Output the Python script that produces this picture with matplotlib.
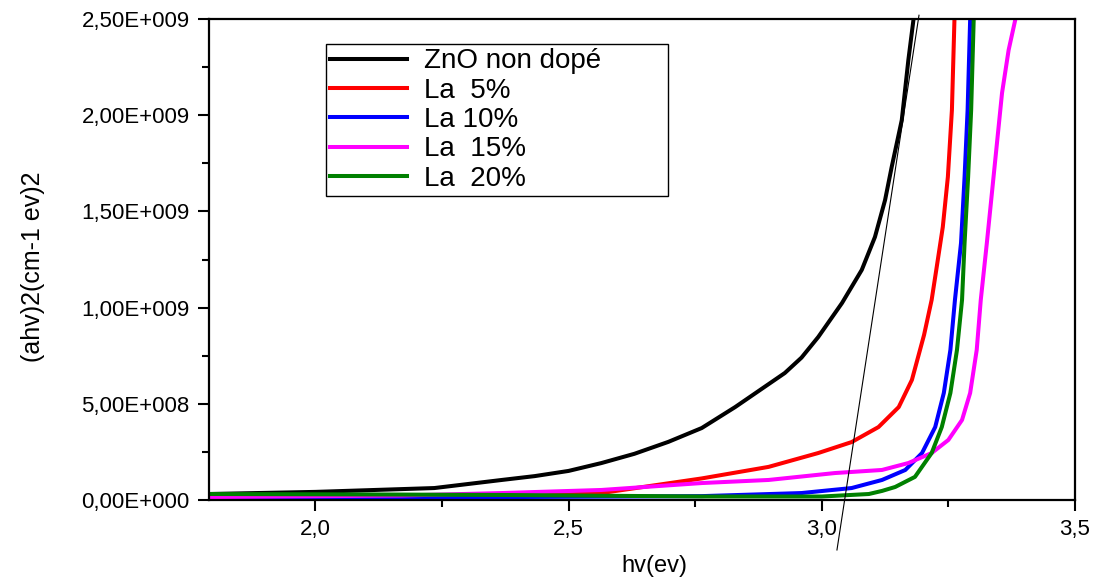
import math
import matplotlib
matplotlib.use("Agg")
import matplotlib.pyplot as plt
from matplotlib.ticker import FuncFormatter, MultipleLocator

plt.rcParams['font.family'] = ['Liberation Sans', 'DejaVu Sans']

# (ahv)^2 curves
x_zno = [1.79, 2.00, 2.235, 2.368, 2.433, 2.50, 2.565, 2.630, 2.697, 2.763, 2.829, 2.927, 2.960, 2.993, 3.040,
         3.079, 3.105, 3.125, 3.138, 3.158, 3.171, 3.181, 3.186]
y_zno = [3.1e7, 4.2e7, 6.2e7, 1.04e8, 1.24e8, 1.51e8, 1.92e8, 2.40e8, 3.02e8, 3.74e8, 4.83e8, 6.60e8, 7.40e8,
         8.47e8, 1.024e9, 1.196e9, 1.367e9, 1.559e9, 1.73e9, 1.975e9, 2.287e9, 2.495e9, 2.6e9]

x_la5 = [1.79, 2.17, 2.368, 2.565, 2.763, 2.895, 2.993, 3.059, 3.112, 3.152, 3.178, 3.202, 3.217, 3.227, 3.239,
         3.249, 3.257, 3.262, 3.263]
y_la5 = [5e6, 1e7, 1.6e7, 3.6e7, 1.12e8, 1.72e8, 2.44e8, 3.01e8, 3.79e8, 4.83e8, 6.24e8, 8.58e8, 1.04e9, 1.211e9,
         1.419e9, 1.679e9, 2.027e9, 2.495e9, 2.6e9]

x_la10 = [1.79, 2.368, 2.763, 2.96, 3.059, 3.119, 3.165, 3.198, 3.224, 3.241, 3.254, 3.263, 3.275, 3.282, 3.288,
          3.293, 3.294]
y_la10 = [1.5e7, 1.5e7, 2e7, 3.6e7, 6.2e7, 1.04e8, 1.56e8, 2.44e8, 3.79e8, 5.56e8, 7.80e8, 1.04e9, 1.336e9,
          1.679e9, 2.027e9, 2.495e9, 2.6e9]

x_la15 = [1.79, 2.17, 2.368, 2.565, 2.763, 2.895, 3.026, 3.119, 3.171, 3.217, 3.250, 3.277, 3.293, 3.306, 3.314,
          3.326, 3.336, 3.346, 3.356, 3.369, 3.382, 3.386]
y_la15 = [1.5e7, 2.3e7, 3.6e7, 5.2e7, 8.8e7, 1.04e8, 1.40e8, 1.56e8, 1.92e8, 2.44e8, 3.12e8, 4.16e8, 5.56e8,
          7.80e8, 1.04e9, 1.336e9, 1.596e9, 1.856e9, 2.116e9, 2.339e9, 2.495e9, 2.6e9]

x_la20 = [1.79, 2.07, 2.368, 2.763, 3.00, 3.093, 3.119, 3.145, 3.184, 3.217, 3.237, 3.254, 3.267, 3.277, 3.282,
          3.289, 3.295, 3.300, 3.301]
y_la20 = [3.1e7, 2.9e7, 2.6e7, 1.8e7, 1.8e7, 3.1e7, 4.7e7, 6.76e7, 1.2e8, 2.44e8, 3.79e8, 5.56e8, 7.80e8, 1.04e9,
          1.336e9, 1.679e9, 2.027e9, 2.495e9, 2.6e9]

# tangent line used for the gap
tangent_x = [3.03, 3.192]
tangent_y = [-2.6e8, 2.52e9]

labels = ['ZnO non dopé', 'La  5%', 'La 10%', 'La  15%', 'La  20%']
colors = ['black', 'red', 'blue', 'magenta', 'green']


def y_fmt(v, pos):
    if v == 0:
        return '0,00E+000'
    e = int(math.floor(math.log10(abs(v))))
    m = v / 10 ** e
    return ('%.2f' % m).replace('.', ',') + 'E+%03d' % e


def x_fmt(v, pos):
    return ('%.1f' % v).replace('.', ',')


fig = plt.figure(figsize=(10.95, 5.78), dpi=100)
ax = fig.add_axes([0.1909, 0.135, 0.7908, 0.832])

series = [(x_zno, y_zno), (x_la5, y_la5), (x_la10, y_la10), (x_la15, y_la15), (x_la20, y_la20)]
for (xs, ys), lab, c in zip(series, labels, colors):
    ax.plot(xs, ys, color=c, lw=2.9, label=lab, solid_joinstyle='round')

ax.plot(tangent_x, tangent_y, color='black', lw=0.8, clip_on=False)

ax.set_xlim(1.79, 3.5)
ax.set_ylim(0, 2.5e9)
ax.xaxis.set_major_locator(MultipleLocator(0.5))
ax.xaxis.set_minor_locator(MultipleLocator(0.25))
ax.yaxis.set_major_locator(MultipleLocator(5e8))
ax.yaxis.set_minor_locator(MultipleLocator(2.5e8))
ax.xaxis.set_major_formatter(FuncFormatter(x_fmt))
ax.yaxis.set_major_formatter(FuncFormatter(y_fmt))

for s in ax.spines.values():
    s.set_linewidth(1.6)
ax.tick_params(which='major', direction='out', length=8, width=1.5, labelsize=16, pad=6)
ax.tick_params(which='minor', direction='out', length=5, width=1.5)
ax.tick_params(top=False, right=False)

ax.set_xlabel('hv(ev)', fontsize=17)
ax.xaxis.set_label_coords(0.514, -0.115)
ax.set_ylabel('(ahv)2(cm-1 ev)2', fontsize=18)
ax.yaxis.set_label_coords(-0.19, 0.486)

leg = ax.legend(loc='upper left', bbox_to_anchor=(0.135, 0.948, 0.395, 0.0),
                mode='expand', fontsize=20, frameon=True, fancybox=False,
                edgecolor='black', framealpha=1, borderpad=0.15, labelspacing=0.12,
                handlelength=2.77, handletextpad=0.6, borderaxespad=0)
leg.get_frame().set_linewidth(1.0)

fig.savefig('out.png', dpi=100)
